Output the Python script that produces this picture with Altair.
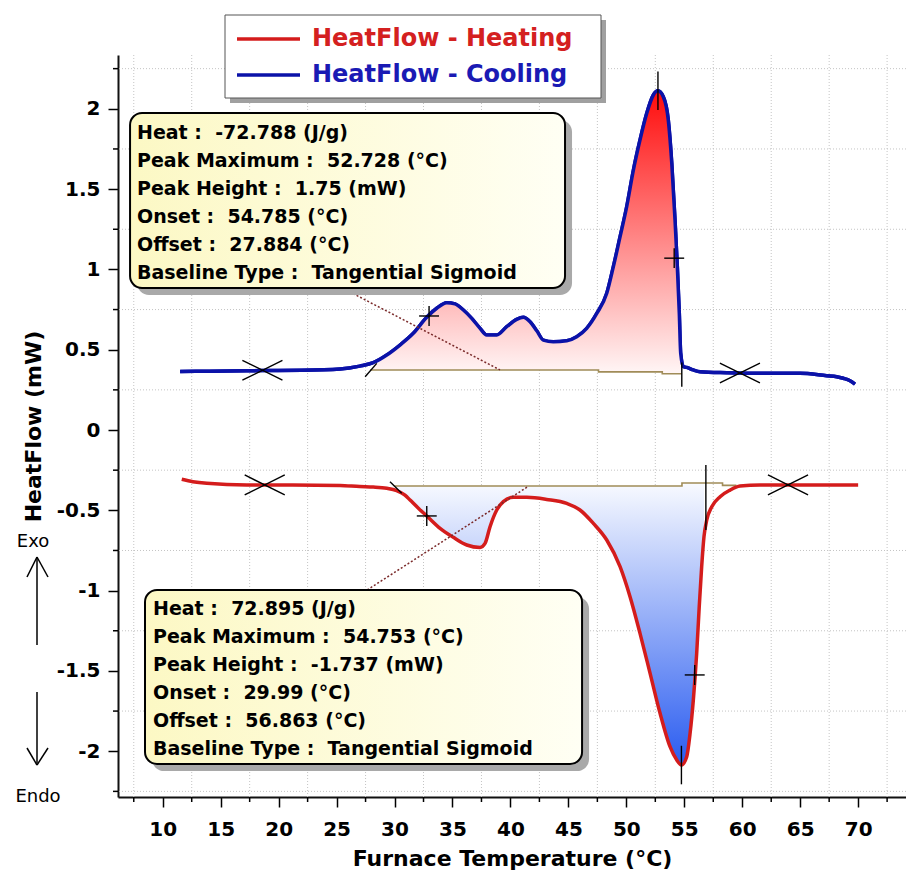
import altair as alt
import pandas as pd

# ---------------- data ----------------
# Cooling run: furnace temperature (°C) and heat flow (mW)
cool_T = [11.5, 14.0, 18.6, 22.0, 25.3, 27.0, 28.17, 29.33, 30.47, 31.62,
          32.78, 33.64, 34.50, 35.22, 35.94, 36.66, 37.38, 37.95, 38.82, 39.68,
          40.54, 41.11, 41.69, 42.27, 42.84, 43.70, 44.86, 45.72, 46.58, 47.45,
          48.31, 48.88, 49.46, 50.03, 50.61, 51.18, 51.76, 52.33, 52.728, 53.19,
          53.62, 53.92, 54.20, 54.40, 54.57, 54.69, 54.92, 55.21, 55.78, 56.36,
          58.66, 61.54, 64.99, 67.29, 68.15, 68.72, 69.30, 69.73]
cool_hf = [0.365, 0.366, 0.370, 0.372, 0.380, 0.398, 0.419, 0.467, 0.529, 0.602,
           0.702, 0.758, 0.793, 0.785, 0.747, 0.695, 0.633, 0.592, 0.592, 0.643,
           0.689, 0.702, 0.674, 0.618, 0.560, 0.550, 0.556, 0.581, 0.633, 0.726,
           0.851, 1.017, 1.204, 1.390, 1.619, 1.806, 1.972, 2.086, 2.112, 2.075,
           1.930, 1.661, 1.308, 1.017, 0.726, 0.478, 0.394, 0.390, 0.374, 0.363,
           0.357, 0.353, 0.353, 0.338, 0.332, 0.322, 0.307, 0.286]

# Heating run
heat_T = [11.64, 12.6, 13.8, 17.25, 21.2, 25.3, 27.0, 28.17, 29.33, 30.19,
          30.9, 31.34, 32.1, 32.78, 33.93, 35.07, 36.23, 37.38, 37.81, 38.24,
          38.82, 39.39, 40.25, 41.41, 43.13, 44.86, 46.0, 47.15, 48.31, 49.46,
          50.32, 51.18, 52.05, 52.91, 53.77, 54.35, 54.753, 55.21, 55.5, 55.78,
          56.07, 56.29, 56.5, 56.7, 56.94, 57.37, 58.09, 58.95, 59.81, 61.54,
          65.0, 70.0]
heat_hf = [-0.307, -0.322, -0.332, -0.342, -0.342, -0.345, -0.352, -0.355, -0.363, -0.378,
           -0.405, -0.436, -0.49, -0.535, -0.612, -0.668, -0.716, -0.731, -0.706, -0.602,
           -0.498, -0.446, -0.419, -0.419, -0.432, -0.457, -0.498, -0.581, -0.685, -0.851,
           -1.038, -1.266, -1.515, -1.764, -1.972, -2.055, -2.086, -2.034, -1.889, -1.681,
           -1.39, -1.1, -0.851, -0.664, -0.56, -0.478, -0.415, -0.374, -0.349, -0.342,
           -0.342, -0.342]

# Peak analysis results
cool_heat, cool_peak_T, cool_peak_h, cool_onset, cool_offset = -72.788, 52.728, 1.75, 54.785, 27.884
heat_heat, heat_peak_T, heat_peak_h, heat_onset, heat_offset = 72.895, 54.753, -1.737, 29.99, 56.863

# Tangential-sigmoid baselines (step breakpoints)
cool_base_T = [27.884, 47.6, 53.1, 54.785]
cool_base_hf = [0.374, 0.362, 0.350, 0.350]
heat_base_T = [29.99, 54.8, 58.3, 59.5]
heat_base_hf = [-0.349, -0.330, -0.345, -0.345]

# Inflection (+) and integration-limit (x) markers
plus_T = [32.98, 54.13, 32.78, 55.9]
plus_hf = [0.71, 1.07, -0.535, -1.525]
cross_T = [18.6, 59.8, 18.8, 63.95]
cross_hf = [0.372, 0.355, -0.342, -0.342]

x_ticks = list(range(10, 75, 5))
y_ticks = [-2, -1.5, -1, -0.5, 0, 0.5, 1, 1.5, 2]
x_minor = [7.5 + 5 * i for i in range(14)]
y_minor = [-2.25 + 0.5 * i for i in range(10)]

BLUE = "#0b12a8"
RED = "#d41c1c"
BASE = "#a08c58"
FONT = "DejaVu Sans"

W, H = 788, 742
xs = alt.Scale(domain=[6.14, 74.13], nice=False, zero=False)
ys = alt.Scale(domain=[-2.285, 2.335], nice=False, zero=False)

x_axis = alt.Axis(values=x_ticks, grid=False, labelFont=FONT, labelFontWeight="bold",
                  labelFontSize=20, labelColor="black", tickSize=10, tickWidth=1.5,
                  tickColor="black", domainColor="#111111", domainWidth=2, labelPadding=12,
                  title="Furnace Temperature (°C)", titleFont=FONT, titleFontSize=22,
                  titleFontWeight="bold", titleColor="black", titlePadding=9)
y_axis = alt.Axis(values=y_ticks, grid=False, labelFont=FONT, labelFontWeight="bold",
                  labelFontSize=20, labelColor="black", tickSize=10, tickWidth=1.5,
                  tickColor="black", domainColor="#111111", domainWidth=2, labelPadding=8,
                  labelExpr="'' + datum.value",
                  title="HeatFlow (mW)", titleFont=FONT, titleFontSize=22,
                  titleFontWeight="bold", titleColor="black", titleAngle=270,
                  titleX=-85, titleY=H / 2, titleAlign="center", titleBaseline="middle")


def X(field):
    return alt.X(field, type="quantitative", scale=xs, axis=x_axis)


def Y(field):
    return alt.Y(field, type="quantitative", scale=ys, axis=y_axis)


def base_at(t, bT, bv):
    val = bv[0]
    for bt, v in zip(bT, bv):
        if t >= bt:
            val = v
    return val


cool = pd.DataFrame({"T": cool_T, "hf": cool_hf})
heat = pd.DataFrame({"T": heat_T, "hf": heat_hf})

cool_area = cool[(cool["T"] >= cool_offset) & (cool["T"] <= cool_onset)].copy()
cool_area["base"] = [base_at(t, cool_base_T, cool_base_hf) for t in cool_area["T"]]
heat_area = heat[(heat["T"] >= heat_onset) & (heat["T"] <= heat_offset)].copy()
heat_area["base"] = [base_at(t, heat_base_T, heat_base_hf) for t in heat_area["T"]]

one = pd.DataFrame({"k": [0]})

# ---------------- grid & minor ticks ----------------
grid_x = alt.Chart(pd.DataFrame({"v": x_minor})).mark_rule(
    color="#c4c4c4", strokeDash=[1, 2], strokeWidth=1).encode(x=X("v"))
grid_y = alt.Chart(pd.DataFrame({"v": y_minor})).mark_rule(
    color="#c4c4c4", strokeDash=[1, 2], strokeWidth=1).encode(y=Y("v"))
minor_x = alt.Chart(pd.DataFrame({"v": x_minor})).mark_rule(color="black", strokeWidth=1.5).encode(
    x=X("v"), y=alt.value(H), y2=alt.value(H + 5))
minor_y = alt.Chart(pd.DataFrame({"v": y_minor})).mark_rule(color="black", strokeWidth=1.5).encode(
    y=Y("v"), x=alt.value(-5), x2=alt.value(0))

# ---------------- peak fills ----------------
red_grad = alt.Gradient(gradient="linear",
                        stops=[alt.GradientStop(color="#ff0c0c", offset=0),
                               alt.GradientStop(color="#fff6f6", offset=1)],
                        x1=0, x2=0, y1=0, y2=1)
blue_grad = alt.Gradient(gradient="linear",
                         stops=[alt.GradientStop(color="#f8faff", offset=0),
                                alt.GradientStop(color="#2a5cf0", offset=1)],
                         x1=0, x2=0, y1=0, y2=1)
area_cool = alt.Chart(cool_area).mark_area(fill=red_grad, interpolate="monotone").encode(
    x=X("T"), y=Y("hf"), y2="base:Q")
area_heat = alt.Chart(heat_area).mark_area(fill=blue_grad, interpolate="monotone").encode(
    x=X("T"), y=Y("hf"), y2="base:Q")

# ---------------- baselines ----------------
bl_cool = alt.Chart(pd.DataFrame({"T": cool_base_T, "hf": cool_base_hf})).mark_line(
    color=BASE, strokeWidth=1.6, interpolate="step-after").encode(x=X("T"), y=Y("hf"))
bl_heat = alt.Chart(pd.DataFrame({"T": heat_base_T, "hf": heat_base_hf})).mark_line(
    color=BASE, strokeWidth=1.6, interpolate="step-after").encode(x=X("T"), y=Y("hf"))

# ---------------- curves ----------------
line_cool = alt.Chart(cool).mark_line(color=BLUE, strokeWidth=3.5, interpolate="monotone").encode(
    x=X("T"), y=Y("hf"))
line_heat = alt.Chart(heat).mark_line(color=RED, strokeWidth=3.5, interpolate="monotone").encode(
    x=X("T"), y=Y("hf"))

# ---------------- analysis markers ----------------
cool_peak_v = base_at(cool_peak_T, cool_base_T, cool_base_hf) + cool_peak_h
heat_peak_v = base_at(heat_peak_T, heat_base_T, heat_base_hf) + heat_peak_h

segs = []
for t, v in zip(plus_T, plus_hf):
    segs.append((t - 0.86, v, t + 0.86, v))
    segs.append((t, v - 0.062, t, v + 0.062))
for t, v in zip(cross_T, cross_hf):
    segs.append((t - 1.73, v - 0.062, t + 1.73, v + 0.062))
    segs.append((t - 1.73, v + 0.062, t + 1.73, v - 0.062))
segs.append((cool_peak_T, cool_peak_v - 0.12, cool_peak_T, cool_peak_v + 0.12))
segs.append((heat_peak_T, heat_peak_v - 0.12, heat_peak_T, heat_peak_v + 0.12))
segs.append((cool_onset, 0.27, cool_onset, 0.42))
segs.append((heat_offset, -0.623, heat_offset, -0.218))
segs.append((cool_offset - 0.42, 0.332, cool_offset + 0.58, 0.415))
segs.append((heat_onset - 0.38, -0.322, heat_onset + 0.63, -0.394))
seg_df = pd.DataFrame(segs, columns=["x1", "y1", "x2", "y2"])
markers = alt.Chart(seg_df).mark_rule(color="black", strokeWidth=1.4).encode(
    x=X("x1"), x2="x2:Q", y=Y("y1"), y2="y2:Q")

# dotted leaders from the result boxes to the baselines
lead_df = pd.DataFrame({"x1": [25.5, 27.64], "y1": [0.884, -0.996],
                        "x2": [39.1, 41.45], "y2": [0.374, -0.355]})
leaders = alt.Chart(lead_df).mark_rule(color="#7a2a2a", strokeWidth=1.5, strokeDash=[2, 2]).encode(
    x=X("x1"), x2="x2:Q", y=Y("y1"), y2="y2:Q")

# ---------------- result boxes ----------------
box_grad = alt.Gradient(gradient="linear",
                        stops=[alt.GradientStop(color="#fcf8c4", offset=0),
                               alt.GradientStop(color="#fffff4", offset=1)],
                        x1=0, x2=1, y1=0, y2=0)
sp = " \u00a0"
cool_lines = [f"Heat :{sp}{cool_heat} (J/g)",
              f"Peak Maximum :{sp}{cool_peak_T} (°C)",
              f"Peak Height :{sp}{cool_peak_h} (mW)",
              f"Onset :{sp}{cool_onset} (°C)",
              f"Offset :{sp}{cool_offset} (°C)",
              f"Baseline Type :{sp}Tangential Sigmoid"]
heat_lines = [f"Heat :{sp}{heat_heat} (J/g)",
              f"Peak Maximum :{sp}{heat_peak_T} (°C)",
              f"Peak Height :{sp}{heat_peak_h} (mW)",
              f"Onset :{sp}{heat_onset} (°C)",
              f"Offset :{sp}{heat_offset} (°C)",
              f"Baseline Type :{sp}Tangential Sigmoid"]

box_df = pd.DataFrame({"x1": [7.18, 8.47], "x2": [44.71, 46.18],
                       "y1": [1.974, -0.996], "y2": [0.884, -2.080],
                       "tx": [7.78, 9.16], "ty": [1.812, -1.152],
                       "txt": ["\n".join(cool_lines), "\n".join(heat_lines)]})
box_enc = dict(x=X("x1"), x2="x2:Q", y=Y("y1"), y2="y2:Q")
box_shadow = alt.Chart(box_df).mark_rect(color="#a9a9a9", cornerRadius=12, xOffset=7, x2Offset=7,
                                         yOffset=7, y2Offset=7).encode(**box_enc)
boxes = alt.Chart(box_df).mark_rect(fill=box_grad, stroke="black", strokeWidth=2,
                                    cornerRadius=12).encode(**box_enc)
box_text = alt.Chart(box_df).mark_text(font=FONT, fontWeight="bold", fontSize=19, color="black",
                                       align="left", baseline="alphabetic", lineBreak="\n",
                                       lineHeight=28).encode(
    x=X("tx"), y=Y("ty"), text="txt:N")


# ---------------- legend & Exo/Endo furniture (pixels from plot origin) ----------------
def px_rule(x1, y1, x2, y2, color="black", width=1.5):
    return alt.Chart(one).mark_rule(color=color, strokeWidth=width).encode(
        x=alt.value(x1), x2=alt.value(x2), y=alt.value(y1), y2=alt.value(y2))


def px_text(x, y, s, size, color="black", weight="normal", align="left"):
    return alt.Chart(one).mark_text(font=FONT, fontSize=size, fontWeight=weight, color=color,
                                    align=align, baseline="middle").encode(
        x=alt.value(x), y=alt.value(y), text=alt.value(s))


leg_shadow = alt.Chart(one).mark_rect(color="#a0a0a0").encode(
    x=alt.value(112), x2=alt.value(488), y=alt.value(-35), y2=alt.value(48))
leg_box = alt.Chart(one).mark_rect(fill="white", stroke="#555555", strokeWidth=1).encode(
    x=alt.value(107), x2=alt.value(483), y=alt.value(-40), y2=alt.value(43))
legend = [leg_shadow, leg_box,
          px_rule(119, -16, 182, -16, RED, 3.5),
          px_rule(119, 20, 182, 20, BLUE, 3.5),
          px_text(194, -16, "HeatFlow - Heating", 24, "#d42020", "bold"),
          px_text(194, 20, "HeatFlow - Cooling", 24, "#1a1ab4", "bold")]

exo_endo = [px_text(-85, 487, "Exo", 18, align="center"),
            px_text(-80, 742, "Endo", 18, align="center"),
            px_rule(-81, 502, -81, 590, width=1.5),
            px_rule(-91, 522, -81, 502, width=1.5),
            px_rule(-81, 502, -70, 522, width=1.5),
            px_rule(-81, 637, -81, 708, width=1.5),
            px_rule(-91, 693, -81, 710, width=1.5),
            px_rule(-81, 710, -70, 693, width=1.5)]

chart = alt.layer(
    line_cool, grid_x, grid_y, minor_x, minor_y,
    area_cool, area_heat, bl_cool, bl_heat,
    line_heat, line_cool, leaders, markers,
    box_shadow, boxes, box_text,
    *legend, *exo_endo
).properties(
    width=W, height=H,
    padding={"left": 118, "top": 55, "right": 0, "bottom": 81},
    autosize=alt.AutoSizeParams(type="none"),
    background="white",
).configure_view(stroke=None)

chart.save("out.html", embed_options={"renderer": "svg", "actions": False})
